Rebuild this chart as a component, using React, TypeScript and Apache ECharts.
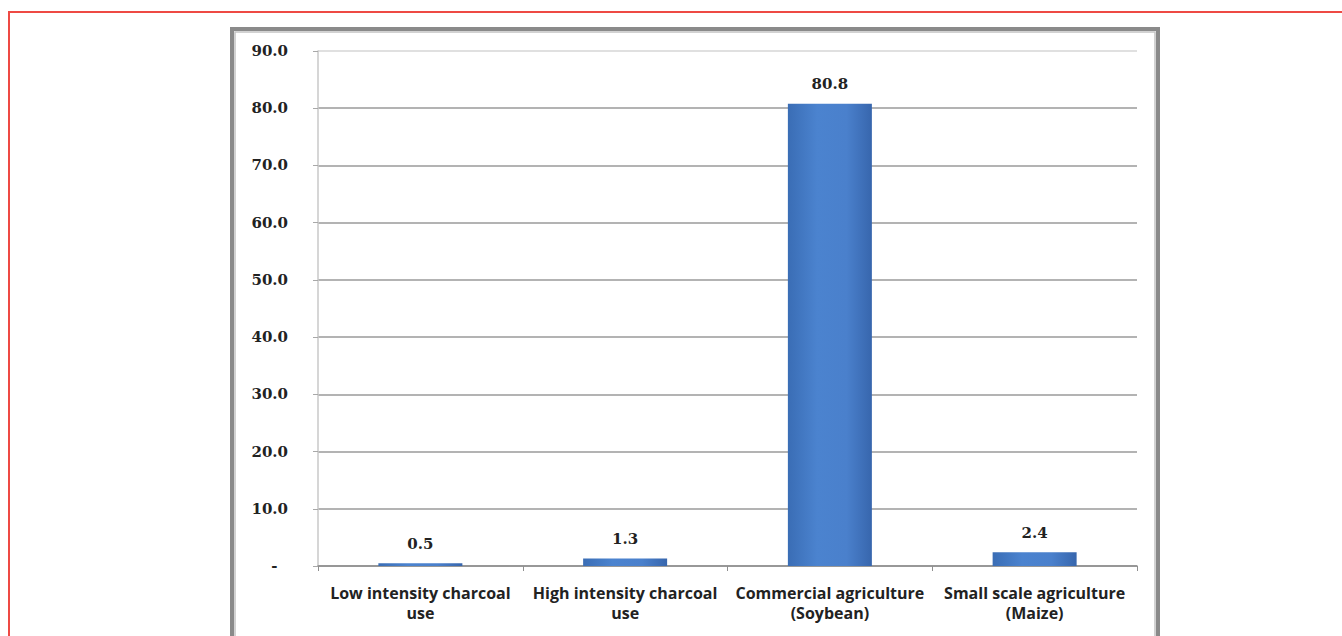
import React, { useEffect, useRef } from "react";
import * as echarts from "echarts";

// Land-use categories and their values
const categories: string[] = [
  "Low intensity charcoal\nuse",
  "High intensity charcoal\nuse",
  "Commercial agriculture\n(Soybean)",
  "Small scale agriculture\n(Maize)",
];
const values: number[] = [0.5, 1.3, 80.8, 2.4];

const yMin = 0;
const yMax = 90;
const yStep = 10;

export default function App() {
  const ref = useRef<HTMLDivElement>(null);

  useEffect(() => {
    if (!ref.current) return;
    const chart = echarts.init(ref.current, undefined, { renderer: "svg" });

    const barFill = new echarts.graphic.LinearGradient(0, 0, 1, 0, [
      { offset: 0, color: "#3a6db5" },
      { offset: 0.35, color: "#4b83cf" },
      { offset: 0.7, color: "#4a80cc" },
      { offset: 1, color: "#3766ad" },
    ]);

    // split line colours, bottom to top; the top edge is lighter
    const gridColors = [
      "#9a9a9a", "#9a9a9a", "#9a9a9a", "#9a9a9a", "#9a9a9a",
      "#9a9a9a", "#9a9a9a", "#9a9a9a", "#9a9a9a", "#d6d6d6",
    ];

    const serif = "DejaVu Serif, Liberation Serif, serif";

    chart.setOption({
      animation: false,
      backgroundColor: "#ffffff",
      graphic: [
        {
          type: "rect",
          z: -10,
          shape: { x: 9, y: 12, width: 1400, height: 700 },
          style: { fill: "none", stroke: "#ee4a44", lineWidth: 2 },
          silent: true,
        },
        {
          type: "rect",
          z: -9,
          shape: { x: 232, y: 29, width: 926, height: 700 },
          style: { fill: "#ffffff", stroke: "#8a8a8a", lineWidth: 4 },
          silent: true,
        },
        {
          type: "rect",
          z: -8,
          shape: { x: 235, y: 32, width: 920, height: 700 },
          style: { fill: "none", stroke: "#c4c4c4", lineWidth: 1.5 },
          silent: true,
        },
      ],
      grid: {
        left: 318,
        right: 205,
        top: 51,
        bottom: 70,
        containLabel: false,
      },
      xAxis: {
        type: "category",
        data: categories,
        axisLine: { show: true, lineStyle: { color: "#8f8f8f", width: 1.5 } },
        axisTick: { show: true, alignWithLabel: false, length: 5, lineStyle: { color: "#8f8f8f" } },
        axisLabel: {
          interval: 0,
          margin: 17,
          fontFamily: "Open Sans, Liberation Sans, sans-serif",
          fontWeight: "bold",
          fontSize: 16,
          lineHeight: 20,
          color: "#222222",
        },
      },
      yAxis: {
        type: "value",
        min: yMin,
        max: yMax,
        interval: yStep,
        axisLine: { show: true, lineStyle: { color: "#c8c8c8", width: 1.5 } },
        axisTick: { show: true, length: 5, lineStyle: { color: "#a8a8a8" } },
        splitLine: { show: true, lineStyle: { color: gridColors, width: 1.5 } },
        axisLabel: {
          margin: 30,
          fontFamily: serif,
          fontWeight: "bold",
          fontSize: 15,
          color: "#222222",
          formatter: (v: number) => (v === 0 ? "-  " : v.toFixed(1)),
        },
      },
      series: [
        {
          type: "bar",
          data: values,
          barWidth: 84,
          itemStyle: { color: barFill },
          label: {
            show: true,
            position: "top",
            distance: 12,
            fontFamily: serif,
            fontWeight: "bold",
            fontSize: 15,
            color: "#222222",
            formatter: (p: any) => Number(p.value).toFixed(1),
          },
        },
      ],
    });

    return () => chart.dispose();
  }, []);

  return (
    <div
      ref={ref}
      style={{ position: "fixed", left: 0, top: 0, width: 1342, height: 636 }}
    />
  );
}
